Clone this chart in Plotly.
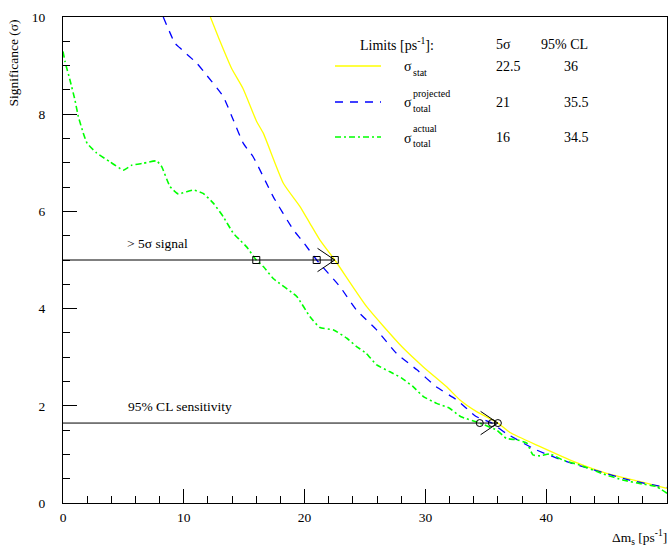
import plotly.graph_objects as go

# ---- data -------------------------------------------------------------
dms_stat = [12.2, 13.0, 13.96, 14.9, 16.03, 16.58, 18.24, 19.62, 20.45, 21.27, 22.5,
            25.14, 28.04, 29.83, 31.76, 32.86, 34.24, 36.0, 37.0, 39.5, 42.3, 45.0,
            47.8, 50.0]
sig_stat = [10.0, 9.5, 8.94, 8.53, 7.85, 7.61, 6.58, 6.10, 5.75, 5.41, 5.0,
            4.04, 3.22, 2.80, 2.39, 2.12, 1.88, 1.645, 1.45, 1.16, 0.85, 0.61,
            0.44, 0.30]

dms_proj = [8.3, 9.27, 9.69, 11.07, 11.9, 13.27, 14.1, 14.93, 15.75, 17.41, 19.07,
            19.76, 21.0, 22.93, 24.3, 25.97, 27.6, 29.3, 30.9, 32.6, 34.2, 35.5,
            36.7, 39.2, 41.7, 46.9, 50.0]
sig_proj = [10.0, 9.46, 9.36, 9.05, 8.8, 8.36, 7.88, 7.40, 7.12, 6.30, 5.62,
            5.41, 5.0, 4.45, 3.97, 3.56, 3.08, 2.74, 2.39, 2.12, 1.78, 1.645,
            1.43, 1.09, 0.85, 0.47, 0.32]

dms_act = [0.0, 0.17, 0.58, 0.99, 1.27, 1.68, 2.0, 2.79, 3.89, 4.99, 5.68, 6.65,
           7.75, 8.17, 8.86, 9.54, 10.79, 11.6, 12.44, 13.27, 14.1, 14.65, 15.2,
           16.0, 16.6, 17.4, 19.35, 20.45, 21.27, 22.4, 23.5, 24.3, 25.1, 25.97,
           27.07, 28.04, 29.0, 29.83, 30.93, 32.0, 32.9, 34.5, 35.9, 36.7, 37.56,
           38.4, 38.9, 39.5, 40.3, 41.4, 42.8, 44.7, 46.4, 48.0, 49.1, 50.0]
sig_act = [9.29, 9.08, 8.70, 8.29, 7.95, 7.61, 7.40, 7.20, 7.02, 6.85, 6.95, 6.99,
           7.04, 6.92, 6.51, 6.36, 6.44, 6.37, 6.17, 5.89, 5.55, 5.41, 5.27,
           5.0, 4.86, 4.62, 4.25, 3.83, 3.61, 3.56, 3.39, 3.22, 3.08, 2.84,
           2.70, 2.57, 2.39, 2.19, 2.05, 1.95, 1.78, 1.645, 1.50, 1.33, 1.30,
           1.23, 0.99, 0.97, 1.01, 0.88, 0.78, 0.60, 0.47, 0.39, 0.34, 0.20]

# limits quoted in the table: 5 sigma discovery and 95% CL sensitivity
five_sigma_limits = [22.5, 21, 16]
cl95_limits = [36, 35.5, 34.5]
level_5sigma = 5.0
level_cl95 = 1.645

x_ticks = [0, 10, 20, 30, 40, 50]
y_ticks = [0, 2, 4, 6, 8, 10]

# ---- styling ----------------------------------------------------------
FONT = "Liberation Serif, Times New Roman, serif"
YELLOW, BLUE, GREEN = "#ffff00", "#0000ff", "#00ff00"

W, H = 668, 547
ML, MR, MT, MB = 63, 1, 17, 44
PW, PH = W - ML - MR, H - MT - MB


def px(xp):
    return (xp - ML) / PW


def py(yp):
    return (H - MB - yp) / PH


fig = go.Figure()

fig.add_trace(go.Scatter(x=dms_stat, y=sig_stat, mode="lines",
                         line=dict(color=YELLOW, width=1.3, shape="spline", smoothing=0.5)))
fig.add_trace(go.Scatter(x=dms_proj, y=sig_proj, mode="lines",
                         line=dict(color=BLUE, width=1.3, dash="8px,7px",
                                   shape="spline", smoothing=0.5)))
fig.add_trace(go.Scatter(x=dms_act, y=sig_act, mode="lines",
                         line=dict(color=GREEN, width=1.6, dash="6px,3px,2px,3px",
                                   shape="spline", smoothing=0.4)))

# horizontal reference lines ending in open arrowheads
head_dx, head_dy = 1.43, 0.24
for level, lims in [(level_5sigma, five_sigma_limits), (level_cl95, cl95_limits)]:
    tip = max(lims)
    fig.add_trace(go.Scatter(x=[0, tip], y=[level, level], mode="lines",
                             line=dict(color="black", width=1)))
    fig.add_trace(go.Scatter(x=[tip - head_dx, tip, tip - head_dx],
                             y=[level + head_dy, level, level - head_dy], mode="lines",
                             line=dict(color="black", width=1)))

fig.add_trace(go.Scatter(x=five_sigma_limits, y=[level_5sigma] * len(five_sigma_limits),
                         mode="markers",
                         marker=dict(symbol="square-open", size=7, color="black",
                                     line=dict(width=1))))
fig.add_trace(go.Scatter(x=cl95_limits, y=[level_cl95] * len(cl95_limits),
                         mode="markers",
                         marker=dict(symbol="circle-open", size=7, color="black",
                                     line=dict(width=1))))

annotations = []


def text(x, y, s, size=13.5, xanchor="left", yanchor="middle", xref="paper",
         yref="paper", **kw):
    annotations.append(dict(x=x, y=y, xref=xref, yref=yref, text=s, showarrow=False,
                            xanchor=xanchor, yanchor=yanchor,
                            font=dict(family=FONT, size=size, color="black"), **kw))


text(7.82, level_5sigma + 0.34, "&gt; 5σ signal", xanchor="center", xref="x", yref="y")
text(9.65, level_cl95 + 0.34, "95% CL sensitivity", xanchor="center", xref="x", yref="y")

# table-style legend
text(px(358), py(44), "Limits [ps<sup>-1</sup>]:", size=14)
text(px(494), py(44), "5σ", size=14)
text(px(539), py(44), "95% CL", size=14)

rows_y = [66, 102, 137]
row_styles = [(YELLOW, "solid", 1.3), (BLUE, "8px,7px", 1.3), (GREEN, "6px,3px,2px,3px", 1.6)]
sups = ["", "projected", "actual"]
subs = ["stat", "total", "total"]
shapes = []
for i, yp in enumerate(rows_y):
    col, dash, wd = row_styles[i]
    shapes.append(dict(type="line", xref="paper", yref="paper",
                       x0=px(335), x1=px(381), y0=py(yp), y1=py(yp),
                       line=dict(color=col, dash=dash, width=wd)))
    text(px(402), py(yp + 1), "σ", size=14)
    if sups[i]:
        text(px(411), py(yp - 8.5), sups[i], size=10)
    text(px(411), py(yp + 6.5), subs[i], size=10)
    text(px(494), py(yp), f"{five_sigma_limits[i]:g}", size=14)
    text(px(562), py(yp), f"{cl95_limits[i]:g}", size=14)

# axis titles
text(px(13), 1.0, "Significance (σ)", size=13.5, xanchor="center", yanchor="top",
     textangle=-90)
text(1.003, py(537), "Δm<sub>s</sub> [ps<sup>-1</sup>]", size=13.5, xanchor="right")

axis_common = dict(showgrid=False, zeroline=False, showline=True, linecolor="black",
                   linewidth=1, mirror=True, ticks="inside", tickcolor="black",
                   tickwidth=1, ticklen=14,
                   tickfont=dict(family=FONT, size=13.5, color="black"))

fig.update_layout(
    width=W, height=H,
    margin=dict(l=ML, r=MR, t=MT, b=MB),
    paper_bgcolor="white", plot_bgcolor="white",
    showlegend=False,
    font=dict(family=FONT, color="black"),
    xaxis=dict(range=[0, 50], tickvals=x_ticks, ticklabelstandoff=2,
               minor=dict(ticks="inside", dtick=2, ticklen=7, tickcolor="black"),
               **axis_common),
    yaxis=dict(range=[0, 10], tickvals=y_ticks, ticklabelstandoff=14,
               minor=dict(ticks="inside", dtick=0.5, ticklen=7, tickcolor="black"),
               **axis_common),
    annotations=annotations,
    shapes=shapes,
)

fig.write_html("out.html")
